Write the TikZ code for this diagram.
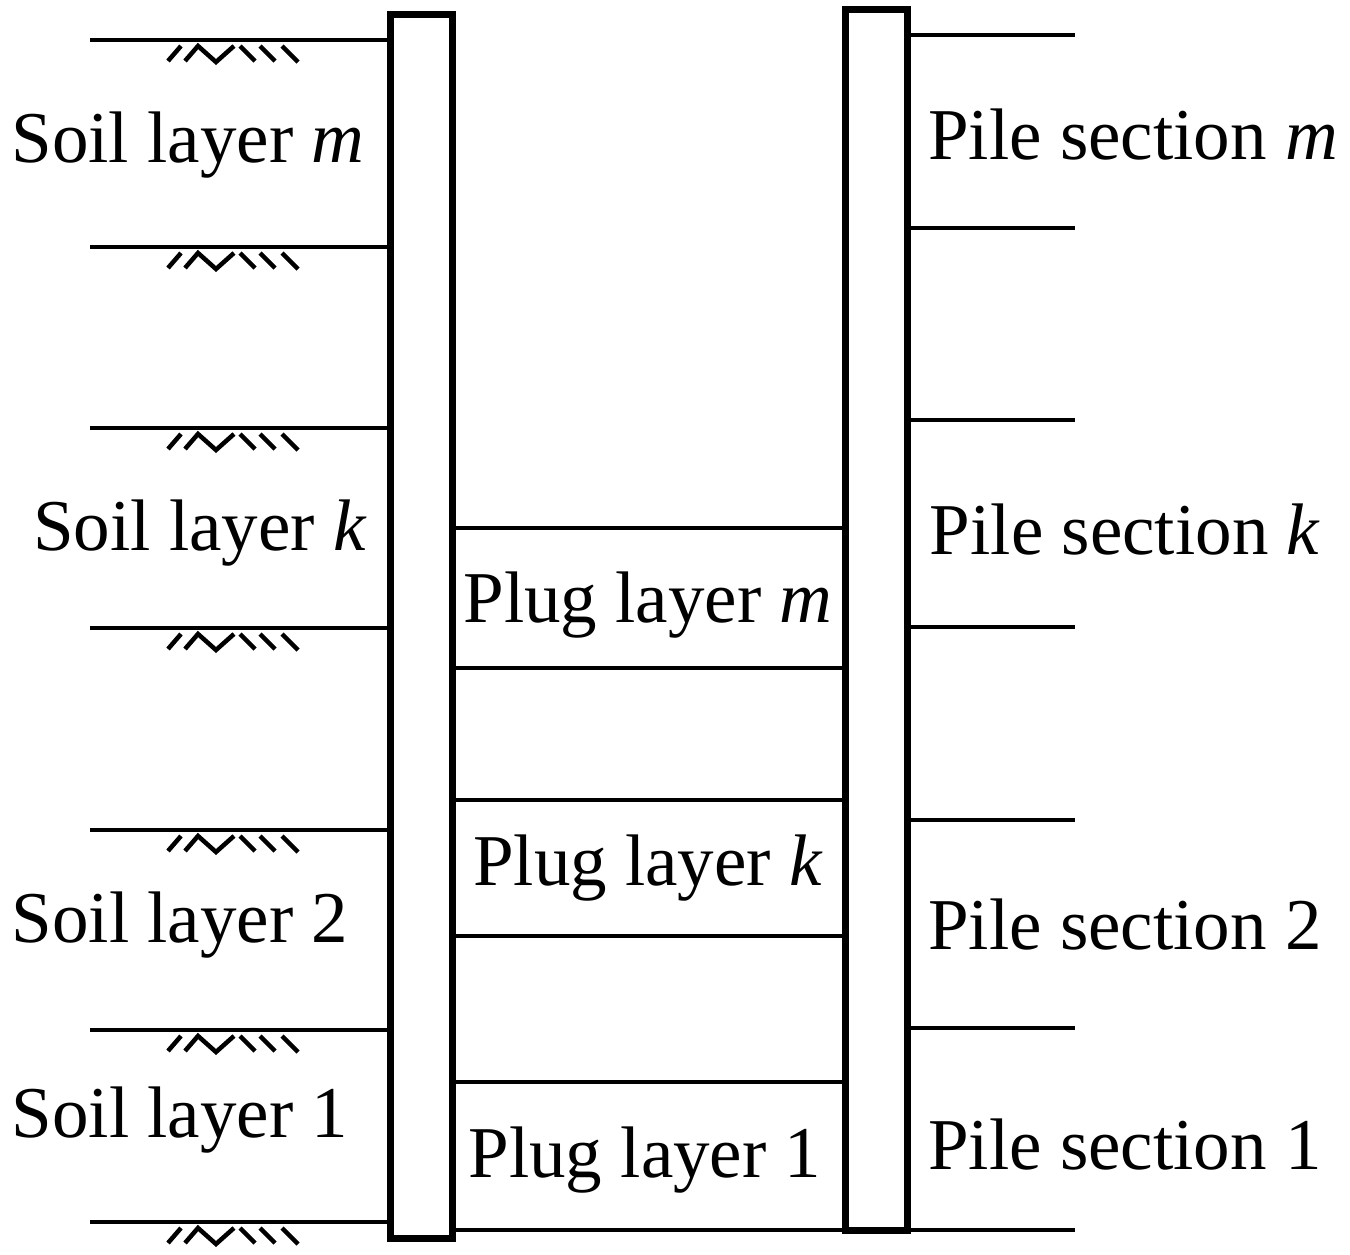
\documentclass[tikz,border=0pt]{standalone}
\usepackage{fontspec}
\setmainfont{Liberation Serif}
\begin{document}
\begin{tikzpicture}[x=1pt,y=-1pt,
  ln/.style={line width=4pt},
  pile/.style={line width=7pt,fill=white},
  lbl/.style={font=\fontsize{73}{75}\selectfont,inner sep=0pt},
  hatch/.pic={\draw[line width=4.5pt] (168,15)--(181,0) (185,15)--(198,0)--(216,16)--(234,0) (240,0)--(255,15) (260,0)--(275,15) (282,0)--(298,16);}]
\useasboundingbox (0,0) rectangle (1350,1255);
\foreach \y in {40,247,428,628,830,1030,1222}{
  \draw[ln] (90,\y)--(390,\y);
  \pic at (0,\y+6) {hatch};
}
\foreach \y in {35,228,420,627,820,1028,1230}{\draw[ln] (907,\y)--(1075,\y);}
\foreach \y in {528,668,800,936,1082,1230}{\draw[ln] (452,\y)--(845,\y);}
\draw[pile] (390,15) rectangle (452,1238);
\draw[pile] (845,10) rectangle (907,1230);
\node[lbl] (s1) at (188,145) {Soil layer \textit{m}};
\node[lbl] (s2) at (200,533) {Soil layer \textit{k}};
\node[lbl] (s3) at (180,925) {Soil layer 2};
\node[lbl] (s4) at (180,1120) {Soil layer 1};
\node[lbl] (p1) at (1133,135) {Pile section \textit{m}};
\node[lbl] (p2) at (1125,530) {Pile section \textit{k}};
\node[lbl] (p3) at (1125,925) {Pile section 2};
\node[lbl] (p4) at (1125,1145) {Pile section 1};
\node[lbl] (g1) at (648,605) {Plug layer \textit{m}};
\node[lbl] (g2) at (648,868) {Plug layer \textit{k}};
\node[lbl] (g3) at (645,1160) {Plug layer 1};
\end{tikzpicture}
\end{document}
